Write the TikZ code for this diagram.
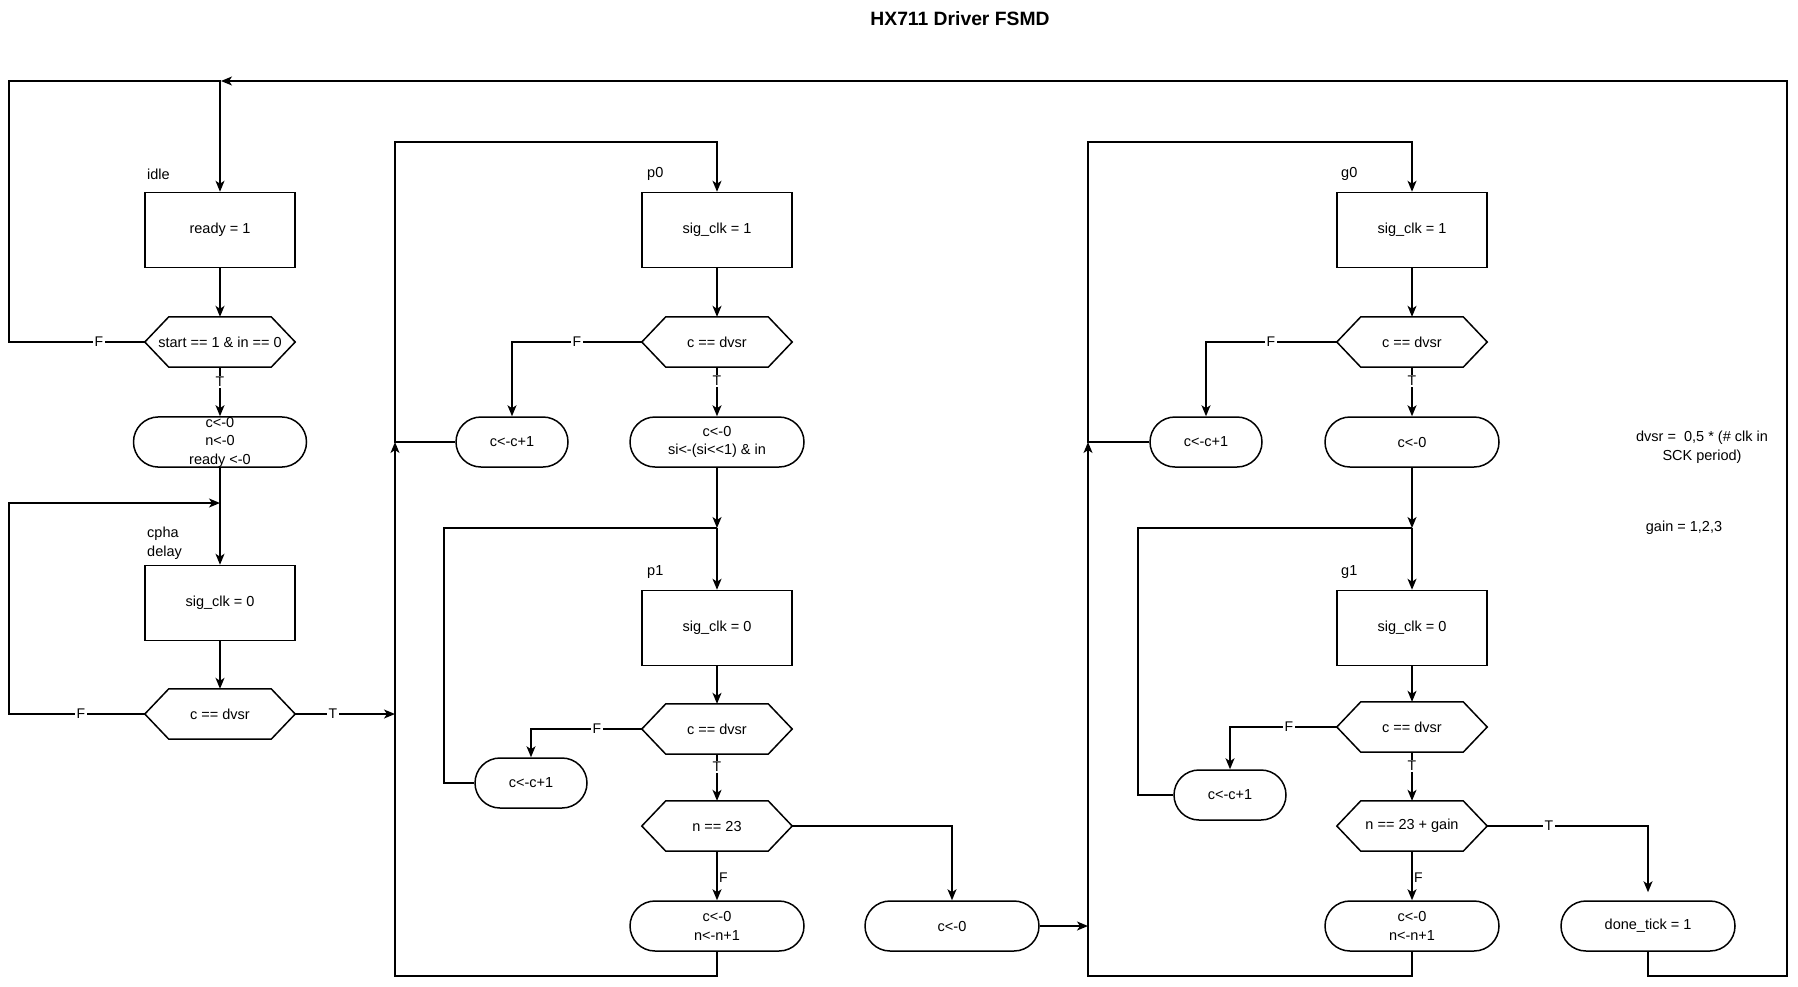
\documentclass[tikz,border=0pt]{standalone}
\usepackage{fontspec}
\setmainfont{Liberation Sans}
\usetikzlibrary{arrows.meta}
\newcommand\nfont{\fontsize{14.5}{18.5}\selectfont}
\newcommand\lfont{\fontsize{14}{16}\selectfont}
\newcommand\tfont{\fontsize{19.3}{23}\selectfont\bfseries}
\begin{document}
\begin{tikzpicture}[x=1pt,y=-1pt,
  shp/.style={draw, line width=1.5pt},
  stbox/.style={shp, rectangle, minimum width=150pt, minimum height=75pt, inner sep=0pt, font=\nfont, align=center},
  hexa/.style={rectangle, minimum width=150pt, minimum height=50pt, inner sep=0pt, font=\nfont, align=center},
  term/.style={shp, rectangle, rounded corners=25pt, minimum height=50pt, inner sep=0pt, font=\nfont, align=center},
  wire/.style={line width=1.5pt},
  conn/.style={line width=1.5pt, -{Stealth[length=11pt,width=9pt,inset=3pt]}},
  elab/.style={fill=white, inner sep=1.5pt, font=\lfont},
  slab/.style={font=\nfont, anchor=west, align=left, inner sep=0pt}]
\useasboundingbox[fill=white] (0,0) rectangle (1798,986);

\node[font=\tfont] (title) at (960,19) {HX711 Driver FSMD};

% column A
\node[slab] (lidle) at (147,174) {idle};
\node[stbox] (bidle) at (220,230) {ready = 1};
\node[hexa] (hs) at (220,342) {start == 1 \& in == 0};
\node[term, minimum width=173pt] (rinit) at (220,442) {c<-0\\n<-0\\ready <-0};
\coordinate (jc) at (220,503);
\node[slab] (lcpha) at (147,543) {cpha\\delay};
\node[stbox] (bc) at (220,603) {sig\_clk = 0};
\node[hexa] (hc) at (220,714) {c == dvsr};

% column P
\node[slab] (lp0) at (647,174) {p0};
\node[stbox] (bp0) at (717,230) {sig\_clk = 1};
\node[hexa] (hp0) at (717,342) {c == dvsr};
\node[term, minimum width=112pt] (rp0i) at (512,442) {c<-c+1};
\node[term, minimum width=174pt] (rp0) at (717,442) {c<-0\\si<-(si<\kern0pt<1) \& in};
\coordinate (jp) at (717,528);
\node[slab] (lp1) at (647,572) {p1};
\node[stbox] (bp1) at (717,628) {sig\_clk = 0};
\node[hexa] (hp1) at (717,729) {c == dvsr};
\node[term, minimum width=112pt] (rp1i) at (531,783) {c<-c+1};
\node[hexa] (hn) at (717,826) {n == 23};
\node[term, minimum width=174pt] (rpn) at (717,926) {c<-0\\n<-n+1};
\node[term, minimum width=174pt] (rp23) at (952,926) {c<-0};

% column G
\node[slab] (lg0) at (1341,174) {g0};
\node[stbox] (bg0) at (1412,230) {sig\_clk = 1};
\node[hexa] (hg0) at (1412,342) {c == dvsr};
\node[term, minimum width=112pt] (rg0i) at (1206,442) {c<-c+1};
\node[term, minimum width=174pt] (rg0) at (1412,442) {c<-0};
\coordinate (jg) at (1412,528);
\node[slab] (lg1) at (1341,572) {g1};
\node[stbox] (bg1) at (1412,628) {sig\_clk = 0};
\node[hexa] (hg1) at (1412,727) {c == dvsr};
\node[term, minimum width=112pt] (rg1i) at (1230,795) {c<-c+1};
\node[hexa] (hgn) at (1412,826) {n == 23 + gain};
\node[term, minimum width=174pt] (rgn) at (1412,926) {c<-0\\n<-n+1};
\node[term, minimum width=174pt] (done) at (1648,926) {done\_tick = 1};

\node[font=\nfont, align=center] (ndvsr) at (1702,447) {dvsr = \ 0,5 * (\# clk in\\SCK period)};
\node[font=\nfont] (ngain) at (1684,528) {gain = 1,2,3};

% hexagon outlines
\foreach \n in {hs,hc,hp0,hp1,hn,hg0,hg1,hgn}
  \draw[shp] (\n.west) -- ([xshift=24pt]\n.north west) -- ([xshift=-24pt]\n.north east)
    -- (\n.east) -- ([xshift=-24pt]\n.south east) -- ([xshift=24pt]\n.south west) -- cycle;

% loop corner coordinates
\coordinate (tl) at (9,81);
\coordinate (tr) at (1787,81);
\coordinate (br) at (1787,976);
\coordinate (tidle) at (221,81);
\coordinate (lc) at (9,503);
\coordinate (pT) at (395,714);
\coordinate (pinP) at (395,442);
\coordinate (ptopP) at (395,142);
\coordinate (pbotP) at (395,976);
\coordinate (qP) at (444,528);
\coordinate (gin) at (1088,926);
\coordinate (pinG) at (1088,442);
\coordinate (ptopG) at (1088,142);
\coordinate (pbotG) at (1088,976);
\coordinate (qG) at (1138,528);

% column A connectors
\draw[conn] (bidle.south) -- (hs.north);
\draw[conn] (hs.south) -- (rinit.north);
\draw[conn] (hs.west) -| (tl) -| (bidle.north);
\draw[conn] (rinit.south) -- (bc.north);
\draw[conn] (bc.south) -- (hc.north);
\draw[conn] (hc.west) -| (lc) -- (jc);
\draw[conn] (hc.east) -- (pT);
\draw[conn] (done.south) |- (br) -- (tr) -- (tidle);

% column P connectors
\draw[conn] (bp0.south) -- (hp0.north);
\draw[conn] (hp0.west) -| (rp0i.north);
\draw[conn] (hp0.south) -- (rp0.north);
\draw[conn] (rp0i.west) -- (pinP) -- (ptopP) -| (bp0.north);
\draw[conn] (rpn.south) |- (pbotP) -- (pinP);
\draw[conn] (rp0.south) -- (jp);
\draw[conn] (jp) -- (bp1.north);
\draw[conn] (bp1.south) -- (hp1.north);
\draw[conn] (hp1.west) -| (rp1i.north);
\draw[wire] (rp1i.west) -| (qP) -- (jp);
\draw[conn] (hp1.south) -- (hn.north);
\draw[conn] (hn.south) -- (rpn.north);
\draw[conn] (hn.east) -| (rp23.north);
\draw[conn] (rp23.east) -- (gin);

% column G connectors
\draw[conn] (bg0.south) -- (hg0.north);
\draw[conn] (hg0.west) -| (rg0i.north);
\draw[conn] (hg0.south) -- (rg0.north);
\draw[conn] (rg0i.west) -- (pinG) -- (ptopG) -| (bg0.north);
\draw[conn] (rgn.south) |- (pbotG) -- (pinG);
\draw[conn] (rg0.south) -- (jg);
\draw[conn] (jg) -- (bg1.north);
\draw[conn] (bg1.south) -- (hg1.north);
\draw[conn] (hg1.west) -| (rg1i.north);
\draw[wire] (rg1i.west) -| (qG) -- (jg);
\draw[conn] (hg1.south) -- (hgn.north);
\draw[conn] (hgn.south) -- (rgn.north);
\draw[conn, shorten >=8pt] (hgn.east) -| (done.north);

% edge labels
\node[elab] (f1) at (99,342) {F};
\node[elab] (t1) at (220,382) {T};
\node[elab] (f2) at (81,714) {F};
\node[elab] (t2) at (333,714) {T};
\node[elab] (f3) at (577,342) {F};
\node[elab] (t3) at (717,381) {T};
\node[elab] (f4) at (597,729) {F};
\node[elab] (t4) at (717,767) {T};
\node[elab, anchor=west, inner sep=1pt] (f5) at (718,878) {F};
\node[elab] (f6) at (1271,342) {F};
\node[elab] (t6) at (1412,381) {T};
\node[elab] (f7) at (1289,727) {F};
\node[elab] (t7) at (1412,766) {T};
\node[elab] (t8) at (1549,826) {T};
\node[elab, anchor=west, inner sep=1pt] (f8) at (1413,878) {F};
\end{tikzpicture}
\end{document}
